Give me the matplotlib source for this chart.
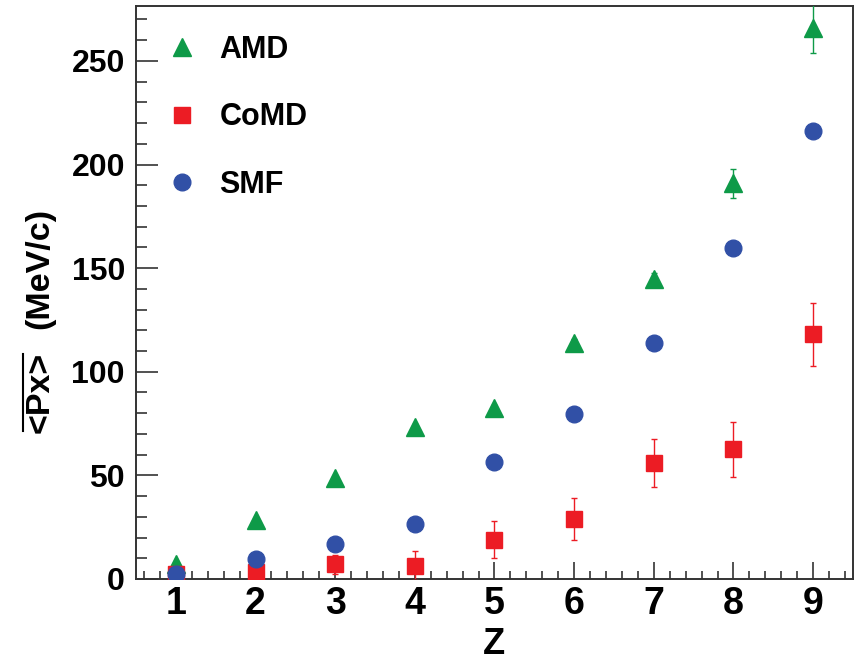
import numpy as np
import matplotlib.pyplot as plt
from matplotlib.lines import Line2D
from matplotlib.ticker import MultipleLocator

plt.rcParams['font.family'] = ['Liberation Sans', 'DejaVu Sans']
plt.rcParams['font.weight'] = 'bold'

# mean transverse momentum per fragment charge
z = [1, 2, 3, 4, 5, 6, 7, 8, 9]
amd = [7, 28.5, 48.5, 73.5, 82.5, 114, 145, 191, 266]
amd_err = [1, 1, 1, 1.5, 1.5, 2, 2.5, 7, 12]
comd = [2.5, 3.5, 7, 6.5, 19, 29, 56, 62.5, 118]
comd_err = [1, 1.5, 4.5, 7, 9, 10, 11.5, 13.5, 15]
smf = [2.5, 9.5, 17, 26.5, 56.5, 79.5, 114, 159.5, 216]
smf_err = [0.5, 0.5, 0.5, 0.5, 1, 1, 1.5, 1.5, 2]

green = '#0e9a48'
red = '#ec1c24'
blue = '#3150a6'
axis_col = '#333333'

fig = plt.figure(figsize=(8.57, 6.63), dpi=100)
ax = fig.add_axes([136 / 857, 1 - 579 / 663, (853 - 136) / 857, (579 - 6) / 663])

ms = 12
ax.errorbar(z, amd, yerr=amd_err, fmt='^', ms=ms + 1, color=green, ecolor=green,
            elinewidth=1, capsize=2, capthick=1, label='AMD', zorder=3)
ax.errorbar(z, comd, yerr=comd_err, fmt='s', ms=ms, color=red, ecolor=red,
            elinewidth=1, capsize=2, capthick=1, label='CoMD', zorder=4)
ax.errorbar(z, smf, yerr=smf_err, fmt='o', ms=ms, color=blue, ecolor=blue,
            elinewidth=1, capsize=2, capthick=1, label='SMF', zorder=5)

ax.set_xlim(0.5, 9.5)
ax.set_ylim(0, 276.5)
ax.xaxis.set_major_locator(MultipleLocator(1))
ax.xaxis.set_minor_locator(MultipleLocator(0.2))
ax.yaxis.set_major_locator(MultipleLocator(50))
ax.yaxis.set_minor_locator(MultipleLocator(10))

for s in ax.spines.values():
    s.set_color(axis_col)
    s.set_linewidth(1.4)

ax.tick_params(axis='both', which='both', direction='in', color=axis_col,
               width=1.2, top=False, right=False)
ax.tick_params(axis='y', which='major', length=16, pad=8, labelsize=23)
ax.tick_params(axis='y', which='minor', length=8)
ax.tick_params(axis='x', which='major', length=12.5, pad=5, labelsize=27)
ax.tick_params(axis='x', which='minor', length=6)
for lab in ax.get_xticklabels() + ax.get_yticklabels():
    lab.set_fontweight('bold')

# x title placed directly in figure coordinates so it stays on the canvas
fig.text(494 / 857, 1 - 654 / 663, 'Z', fontsize=26, fontweight='bold',
         ha='center', va='baseline')

# y title: overlined <Px> followed by units
t1 = fig.text(40 / 857, 1 - 392.5 / 663, '<Px>', rotation=90, fontsize=24.5,
              fontweight='bold', ha='center', va='center')
fig.text(40 / 857, 1 - 268.5 / 663, '(MeV/c)', rotation=90, fontsize=24.5,
         fontweight='bold', ha='center', va='center')

handles = [
    Line2D([], [], ls='none', marker='^', ms=ms + 1, color=green),
    Line2D([], [], ls='none', marker='s', ms=ms, color=red),
    Line2D([], [], ls='none', marker='o', ms=ms, color=blue),
]
ax.legend(handles, ['AMD', 'CoMD', 'SMF'], loc='upper left',
          bbox_to_anchor=(0.043, 0.95), frameon=False,
          prop={'weight': 'bold', 'size': 22}, handlelength=1,
          handletextpad=0.72, labelspacing=1.23, borderpad=0, borderaxespad=0)

fig.canvas.draw()
bb = t1.get_window_extent()
x_line = bb.x0 - 2
fig.add_artist(Line2D([x_line, x_line], [bb.y0 + 2, bb.y1 - 2],
                      transform=None, color='black', lw=1.5))

fig.savefig('out.png', dpi=100)
